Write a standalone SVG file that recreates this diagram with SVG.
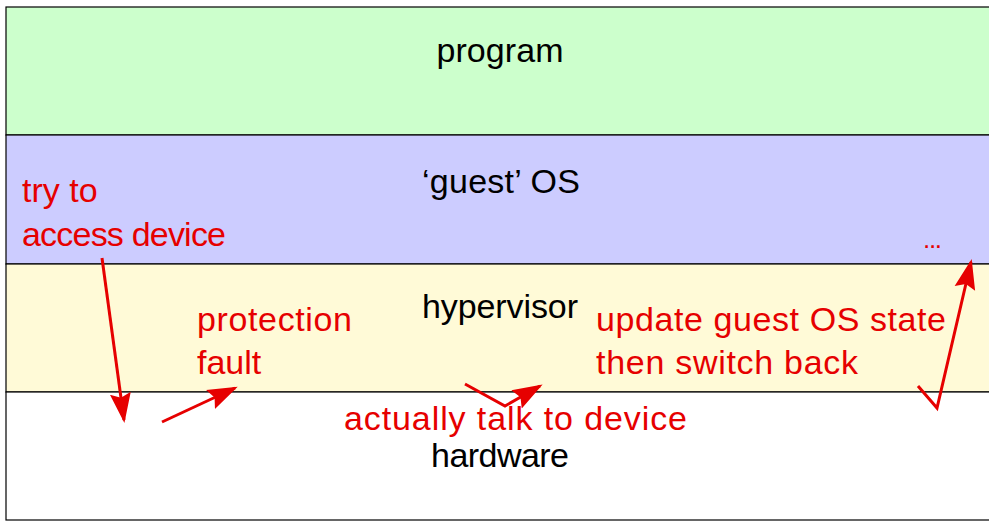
<svg xmlns="http://www.w3.org/2000/svg" width="989" height="522" viewBox="0 0 989 522">
<defs>
<style>
.band{stroke:#000;stroke-width:1.2}
.lbl{font-family:"Liberation Sans",Arial,sans-serif;font-size:34px;fill:#000;text-anchor:middle}
.red{font-family:"Liberation Sans",Arial,sans-serif;font-size:34px;fill:#e60000}
.arr{fill:none;stroke:#e60000;stroke-width:3}
</style>
<marker id="ah2" viewBox="0 0 10 10" refX="9" refY="5" markerWidth="30" markerHeight="30" markerUnits="userSpaceOnUse" orient="auto">
<path d="M0,1.5 L10,5 L0,8.5 L1.5,5 z" fill="#e60000"/>
</marker>
</defs>
<rect width="989" height="522" fill="#fff"/>
<g id="program"><rect class="band" x="6" y="7" width="995" height="128" fill="#ccffcc"/><text class="lbl" x="500" y="62" textLength="127">program</text></g>
<g id="guest"><rect class="band" x="6" y="135" width="995" height="129" fill="#ccccff"/><text class="lbl" x="501" y="193" textLength="158">‘guest’ OS</text></g>
<g id="hypervisor"><rect class="band" x="6" y="264" width="995" height="128" fill="#fffad7"/><text class="lbl" x="500" y="318" textLength="156">hypervisor</text></g>
<g id="hardware"><rect class="band" x="6" y="392" width="995" height="128" fill="#fff"/><text class="lbl" x="500" y="467" textLength="138">hardware</text></g>
<g id="notes">
<text class="red" x="22" y="202">try to</text>
<text class="red" x="22" y="246" textLength="204">access device</text>
<text class="red" x="197" y="331" textLength="155">protection</text>
<text class="red" x="197" y="374">fault</text>
<text class="red" x="596" y="331" textLength="350">update guest OS state</text>
<text class="red" x="596" y="374" textLength="262">then switch back</text>
<text class="red" x="344" y="430" textLength="343">actually talk to device</text>
<text class="red" x="923" y="248" style="font-size:26px" textLength="19">...</text>
</g>
<g id="connectors">
<path class="arr" d="M102,258 L124,420" marker-end="url(#ah2)"/>
<path class="arr" d="M162,422 L235,388" marker-end="url(#ah2)"/>
<path class="arr" d="M465,384 L505,406 L540,386" marker-end="url(#ah2)"/>
<path class="arr" d="M918,386 L937,408 L971,262" marker-end="url(#ah2)"/>
</g>
</svg>
